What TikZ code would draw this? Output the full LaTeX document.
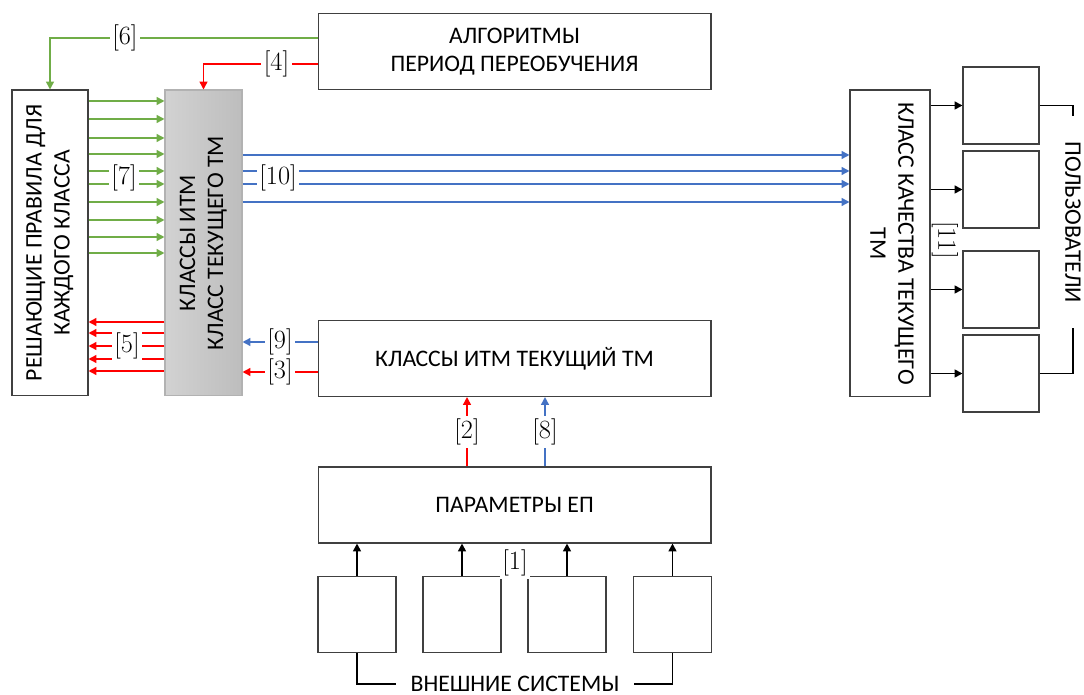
\documentclass[tikz,border=0pt]{standalone}
\usepackage{fontspec}
\setsansfont{Carlito}
\usepackage{graphicx}
\usetikzlibrary{arrows.meta,calc}
\definecolor{ecgreen}{HTML}{70AD47}
\definecolor{ecblue}{HTML}{4472C4}
\definecolor{ecred}{HTML}{FF0000}
\definecolor{ecgrayl}{HTML}{D2D2D2}
\definecolor{ecgrayr}{HTML}{BDBDBD}
\newcommand{\vlabel}[2]{\rotatebox{#1}{\begin{tabular}{@{}c@{}}#2\end{tabular}}}

\begin{document}
\begin{tikzpicture}[
  x=0.02cm, y=0.02cm,
  every node/.style={align=center, font=\sffamily\fontsize{13.5}{16}\selectfont},
  box/.style={draw=black!75, line width=0.6pt, inner sep=0pt},
  wide/.style={box, minimum width=7.86cm, minimum height=1.52cm},
  tall/.style={box, minimum width=1.54cm, minimum height=6.12cm},
  small/.style={box, minimum width=1.54cm, minimum height=1.54cm},
  lbl/.style={fill=white, inner sep=1.5pt, font=\rmfamily\fontsize{15}{17}\selectfont},
  greenline/.style={draw=ecgreen, line width=0.85pt},
  redline/.style={draw=ecred, line width=0.85pt},
  blueline/.style={draw=ecblue, line width=0.85pt},
  blackline/.style={draw=black, line width=1pt},
  >={Triangle[length=4.5pt,width=4.5pt]}
]
\useasboundingbox (0,0) rectangle (1084,-695);

\node[wide]  (algo)    at (514.5,-51.5)  {АЛГОРИТМЫ\\ПЕРИОД ПЕРЕОБУЧЕНИЯ};
\node[tall, minimum width=1.52cm] (rules) at (50,-243) {\vlabel{90}{РЕШАЮЩИЕ ПРАВИЛА ДЛЯ\\КАЖДОГО КЛАССА}};
\node[tall, draw=black!30, left color=ecgrayl, right color=ecgrayr] (cls) at (203.5,-243) {\vlabel{90}{КЛАССЫ ИТМ\\КЛАСС ТЕКУЩЕГО ТМ}};
\node[tall, minimum width=1.6cm, minimum height=6.14cm] (quality) at (890,-243.5) {\vlabel{-90}{КЛАСС КАЧЕСТВА ТЕКУЩЕГО\\ТМ}};
\node[wide]  (cur)     at (514.5,-358.5) {КЛАССЫ ИТМ ТЕКУЩИЙ ТМ};
\node[wide]  (params)  at (514.5,-505)   {ПАРАМЕТРЫ ЕП};

\node[small, minimum width=1.52cm] (usr1) at (1001,-105.5) {};
\node[small, minimum width=1.52cm] (usr2) at (1001,-189.5) {};
\node[small, minimum width=1.52cm] (usr3) at (1001,-289.5) {};
\node[small, minimum width=1.52cm] (usr4) at (1001,-373.5) {};

\node[small, minimum width=1.56cm, minimum height=1.52cm] (ext1) at (357,-614.5) {};
\node[small, minimum width=1.56cm, minimum height=1.52cm] (ext2) at (462,-614.5) {};
\node[small, minimum width=1.56cm, minimum height=1.52cm] (ext3) at (567,-614.5) {};
\node[small, minimum width=1.56cm, minimum height=1.52cm] (ext4) at (672.5,-614.5) {};

% feedback from the algorithms
\draw[greenline,->] ([yshift=0.27cm]algo.west) -| node[lbl,pos=0.36] {[6]} (rules.north);
\draw[redline,->] ([yshift=-0.25cm]algo.west) -| node[lbl,pos=0.18] {[4]} (cls.north);

\foreach \y in {101,119,138,154,171,184,202,220,237,253}
  \draw[greenline,->] (rules.east |- 0,-\y) -- (cls.west |- 0,-\y);
\node[lbl] (l7) at (124,-178) {[7]};

\foreach \y in {322,333,346,359,371}
  \draw[redline,->] (cls.west |- 0,-\y) -- (rules.east |- 0,-\y);
\node[lbl, minimum height=0.68cm] (l5) at (127,-346) {[5]};

\foreach \y in {155,171,184,202}
  \draw[blueline,->] (cls.east |- 0,-\y) -- (quality.west |- 0,-\y);
\node[lbl] (l10) at (278,-178) {[10]};

\draw[blueline,->] (cur.west |- 0,-342) -- node[lbl] {[9]} (cls.east |- 0,-342);
\draw[redline,->] (cur.west |- 0,-372) -- node[lbl] {[3]} (cls.east |- 0,-372);

\draw[redline,->] ([xshift=-0.95cm]params.north) -- node[lbl] {[2]} ([xshift=-0.95cm]cur.south);
\draw[blueline,->] ([xshift=0.61cm]params.north) -- node[lbl] {[8]} ([xshift=0.61cm]cur.south);

% external systems
\foreach \n in {1,...,4}
  \draw[blackline,->] (ext\n.north) -- (params.south -| ext\n.north);
\node[lbl] (l1) at (515,-563) {[1]};
\node[inner xsep=0.28cm, inner ysep=0pt] (sys) at (515,-684) {ВНЕШНИЕ СИСТЕМЫ};
\draw[blackline] (ext1.south) |- (sys.west);
\draw[blackline] (ext4.south) |- (sys.east);

% users
\foreach \n in {1,...,4}
  \draw[blackline,->] (quality.east |- usr\n.west) -- (usr\n.west);
\node[lbl, fill=none, rotate=-90] (l11) at (945,-240) {[11]};
\node[inner xsep=0.5cm, inner ysep=0pt, rotate=-90] (users) at (1073,-222) {ПОЛЬЗОВАТЕЛИ};
\draw[blackline] (usr1.east) -| (users.west);
\draw[blackline] (usr4.east) -| (users.east);
\end{tikzpicture}
\end{document}
